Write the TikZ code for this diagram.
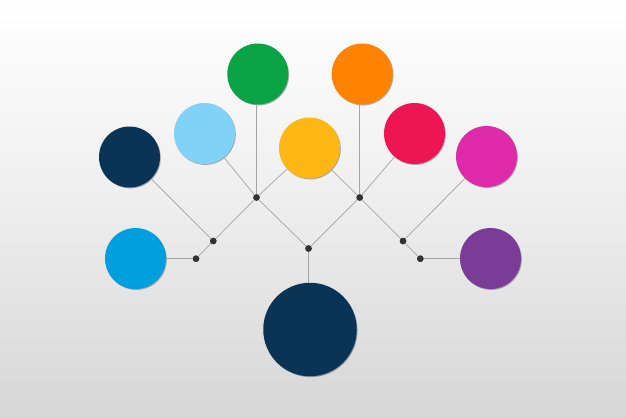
\documentclass[tikz,border=0pt]{standalone}
\usetikzlibrary{shadows,calc}
\definecolor{cnavy}{HTML}{0A3456}
\definecolor{clblue}{HTML}{80D2F7}
\definecolor{cgreen}{HTML}{0AA446}
\definecolor{corange}{HTML}{FF8200}
\definecolor{cyellow}{HTML}{FDB714}
\definecolor{cred}{HTML}{EE1554}
\definecolor{cmagenta}{HTML}{DE29A8}
\definecolor{cpurple}{HTML}{7A3C97}
\definecolor{cblue}{HTML}{00A0DF}
\definecolor{clink}{HTML}{A2A4A6}
\definecolor{cdot}{HTML}{333333}
\tikzset{
  bubble/.style={circle, inner sep=0pt, minimum size=61bp, fill=#1,
    drop shadow={shadow xshift=0.8bp, shadow yshift=-0.9bp, opacity=0.3, fill=black}},
  junction/.style={circle, inner sep=0pt, minimum size=6.5bp, fill=cdot},
  link/.style={draw=clink, line width=0.7bp}
}
\begin{document}
\begin{tikzpicture}[x=1bp,y=-1bp]
\shade[top color=white, bottom color=black!16, middle color=black!7] (0,0) rectangle (626,417);
\useasboundingbox (0,0) rectangle (626,417);
% junctions
\node[junction] (c)  at (308.5,248.5) {};
\node[junction] (lu) at (256.5,197.5) {};
\node[junction] (lm) at (213.3,241) {};
\node[junction] (ll) at (196,258.7) {};
\node[junction] (ru) at (359.7,197.5) {};
\node[junction] (rm) at (403,241) {};
\node[junction] (rl) at (420.3,258.7) {};
% bubbles
\node[bubble=cgreen]   (green)   at (257.8,74) {};
\node[bubble=corange]  (orange)  at (362.2,74) {};
\node[bubble=clblue]   (lblue)   at (204.5,133.5) {};
\node[bubble=cyellow]  (yellow)  at (309.5,148) {};
\node[bubble=cnavy]    (navy)    at (129.5,157) {};
\node[bubble=cblue]    (blue)    at (135.5,258.5) {};
\node[bubble=cred]     (red)     at (414.5,133.5) {};
\node[bubble=cmagenta] (magenta) at (486.5,156.5) {};
\node[bubble=cpurple]  (purple)  at (490.5,258.5) {};
\node[bubble=cnavy, minimum size=93.5bp] (big) at (310,329.5) {};
% links
\draw[link] (c) -- (c |- big.north);
\draw[link] (c) -- (lu);
\draw[link] (c) -- (ru);
\draw[link] (lu) -- (lu |- green.south);
\draw[link] (lu) -- (lblue);
\draw[link] (lu) -- (yellow);
\draw[link] (lu) -- (lm);
\draw[link] (lm) -- (navy);
\draw[link] (lm) -- (ll);
\draw[link] (ll) -- (ll -| blue.east);
\draw[link] (ru) -- (ru |- orange.south);
\draw[link] (ru) -- (red);
\draw[link] (ru) -- (yellow);
\draw[link] (ru) -- (rm);
\draw[link] (rm) -- (magenta);
\draw[link] (rm) -- (rl);
\draw[link] (rl) -- (rl -| purple.west);
% redraw junctions on top
\foreach \n in {c,lu,lm,ll,ru,rm,rl} \fill[cdot] (\n) circle (3.25bp);
\end{tikzpicture}
\end{document}
